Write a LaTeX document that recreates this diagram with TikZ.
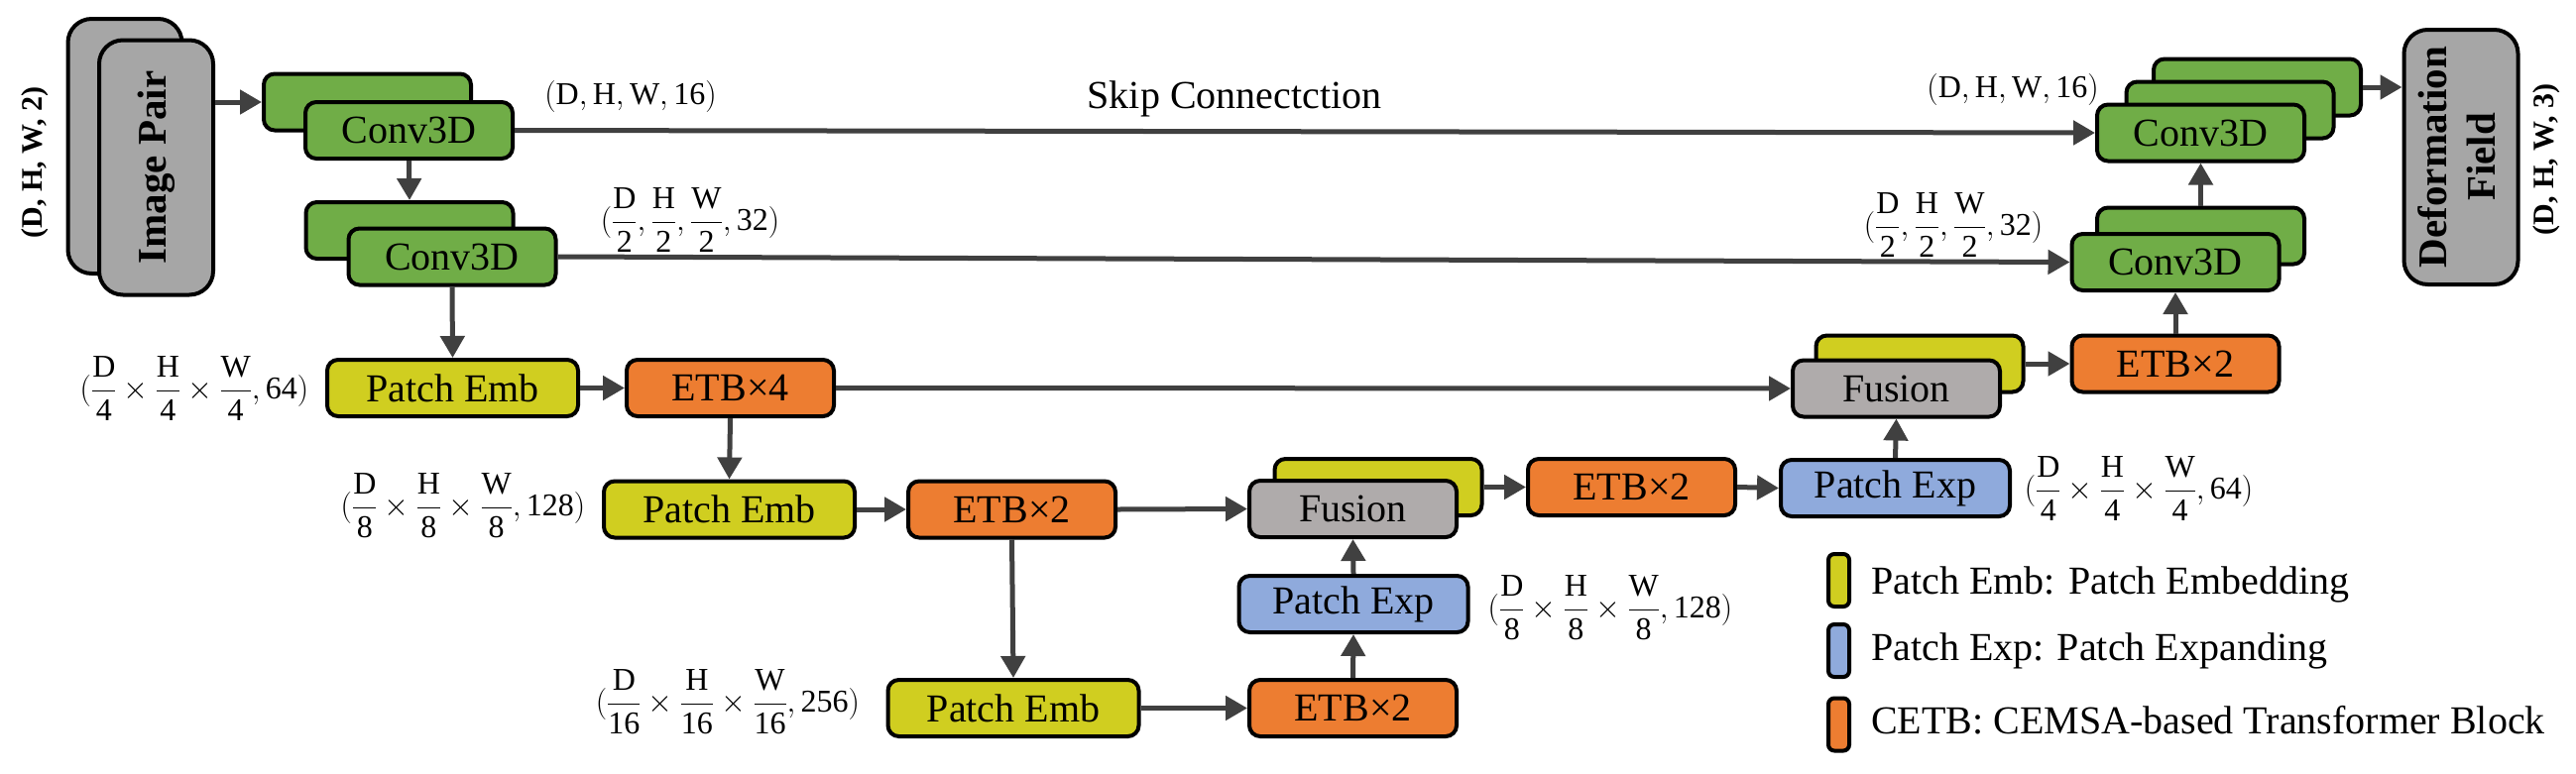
\documentclass[tikz,border=0pt]{standalone}
\usepackage{fix-cm}
\usepackage{amsmath}
\usepackage{fontspec}
\setmainfont{Liberation Serif}
\usetikzlibrary{arrows.meta}
\definecolor{cgreen}{RGB}{112,173,71}
\definecolor{cyellow}{RGB}{208,206,32}
\definecolor{corange}{RGB}{237,125,49}
\definecolor{cblue}{RGB}{143,170,220}
\definecolor{cgrayA}{RGB}{166,166,166}
\definecolor{cgrayF}{RGB}{175,171,171}
\definecolor{cline}{RGB}{64,64,64}
\newcommand{\bfs}{\fontsize{40}{48}\selectfont}
\newcommand{\dfs}{\fontsize{32}{38}\selectfont}
\newcommand{\rfs}{\fontsize{30}{36}\selectfont\bfseries}
\newcommand{\tfs}{\fontsize{41}{49}\selectfont\bfseries}
\newcommand{\fr}[2]{\dfrac{\mathrm{#1}}{\mathrm{#2}}}
\newcommand{\nm}[1]{\mathrm{#1}}
\tikzset{
  blk/.style={draw=black, line width=4pt, rounded corners=11pt, inner sep=0pt, minimum height=57pt, font=\bfs},
  cw/.style={blk, minimum width=209pt},
  conv/.style={cw, fill=cgreen},
  etb/.style={cw, fill=corange},
  fus/.style={cw, fill=cgrayF},
  fusback/.style={cw, fill=cyellow},
  pemb/.style={blk, fill=cyellow, minimum width=253pt},
  pexp/.style={blk, fill=cblue, minimum width=231pt},
  tall/.style={draw=black, line width=4pt, rounded corners=24pt, fill=cgrayA, minimum width=115pt, minimum height=257pt, inner sep=0pt, align=center},
  arr/.style={draw=cline, line width=5pt, -{Triangle[length=22pt,width=24pt]}},
  dim/.style={font=\dfs, inner sep=0pt},
  rlab/.style={font=\rfs, inner sep=0pt, rotate=90},
  swatch/.style={draw=black, line width=4pt, rounded corners=6pt, minimum width=21pt, minimum height=53pt, inner sep=0pt},
  legtext/.style={font=\bfs, inner sep=0pt, anchor=base west}
}
\begin{document}
\begin{tikzpicture}[x=1pt,y=-1pt]
\useasboundingbox (0,0) rectangle (2598,780);
% input
\node[tall] (imgB) at (126,147.5) {};
\node[tall] (imgF) at (157.5,169) {\rotatebox{90}{\tfs Image Pair}};
\node[rlab] (lin) at (35,164) {(D, H, W, 2)};
% encoder conv
\node[conv] (c1b) at (370.5,103) {};
\node[conv] (c1f) at (412.5,131.5) {Conv3D};
\node[conv] (c2b) at (413,232.5) {};
\node[conv] (c2f) at (456,259) {Conv3D};
% level nodes
\node[pemb] (pe1) at (456.5,391.5) {Patch Emb};
\node[etb] (etb4) at (736.5,391.5) {ETB×4};
\node[pemb] (pe2) at (735.5,514) {Patch Emb};
\node[etb] (etba) at (1020.5,514) {ETB×2};
\node[pemb] (pe3) at (1022,714.5) {Patch Emb};
\node[etb] (etbb) at (1364.5,714.5) {ETB×2};
\node[pexp] (pxL) at (1365,609.5) {Patch Exp};
\node[fusback] (fLb) at (1390,491.5) {};
\node[fus] (fLf) at (1364.5,513.5) {Fusion};
\node[etb] (etbc) at (1645.5,491.5) {ETB×2};
\node[pexp] (pxR) at (1911.5,492.5) {Patch Exp};
\node[fusback] (fTb) at (1936,367) {};
\node[fus] (fTf) at (1912.5,392) {Fusion};
\node[etb] (etbd) at (2194,367) {ETB×2};
% decoder conv
\node[conv] (r2b) at (2219.5,238) {};
\node[conv] (r2f) at (2194,264.5) {Conv3D};
\node[conv] (r1b) at (2276.5,88) {};
\node[conv] (r1m) at (2249,111) {};
\node[conv] (r1f) at (2219.5,134) {Conv3D};
\node[tall] (def) at (2482,158.5) {\rotatebox{90}{\tfs\begin{tabular}{@{}c@{}}Deformation\\Field\end{tabular}}};
\node[rlab] (lout) at (2568,161) {(D, H, W, 3)};
% dimension labels
\node[dim] (d1) at (636,97) {$(\nm{D},\nm{H},\nm{W},\nm{16})$};
\node[dim] (d2) at (696,222) {$(\fr{D}{2},\fr{H}{2},\fr{W}{2},\nm{32})$};
\node[dim] (d3) at (196,392) {$(\fr{D}{4}\times\fr{H}{4}\times\fr{W}{4},\nm{64})$};
\node[dim] (d4) at (467,510) {$(\fr{D}{8}\times\fr{H}{8}\times\fr{W}{8},\nm{128})$};
\node[dim] (d5) at (734,708) {$(\fr{D}{16}\times\fr{H}{16}\times\fr{W}{16},\nm{256})$};
\node[dim] (d6) at (2030,90) {$(\nm{D},\nm{H},\nm{W},\nm{16})$};
\node[dim] (d7) at (1970,227) {$(\fr{D}{2},\fr{H}{2},\fr{W}{2},\nm{32})$};
\node[dim] (d8) at (1624,613) {$(\fr{D}{8}\times\fr{H}{8}\times\fr{W}{8},\nm{128})$};
\node[dim] (d9) at (2157,493) {$(\fr{D}{4}\times\fr{H}{4}\times\fr{W}{4},\nm{64})$};
\node[font=\bfs, inner sep=0pt] (skip) at (1245,100) {Skip Connectction};
% arrows
\draw[arr] (imgF.east |- c1b.west) -- (c1b.west);
\draw[arr] (c1f.east) -- (r1f.west);
\draw[arr] (c1f.south) -- (c2b.north);
\draw[arr] (c2f.east) -- (r2f.west);
\draw[arr] (c2f.south) -- (pe1.north);
\draw[arr] (pe1.east) -- (etb4.west);
\draw[arr] (etb4.east) -- (fTf.west);
\draw[arr] (etb4.south) -- (pe2.north);
\draw[arr] (pe2.east) -- (etba.west);
\draw[arr] (etba.east) -- (fLf.west);
\draw[arr] (etba.south) -- (pe3.north);
\draw[arr] (pe3.east) -- (etbb.west);
\draw[arr] (etbb.north) -- (pxL.south);
\draw[arr] (pxL.north) -- (fLf.south);
\draw[arr] (fLb.east) -- (etbc.west);
\draw[arr] (etbc.east) -- (pxR.west);
\draw[arr] (pxR.north) -- (fTf.south);
\draw[arr] (fTb.east) -- (etbd.west);
\draw[arr] (etbd.north) -- (r2f.south);
\draw[arr] (r2b.north) -- (r1f.south);
\draw[arr] (r1b.east) -- (def.west |- r1b.east);
% legend
\node[swatch, fill=cyellow] (s1) at (1854.5,585.5) {};
\node[swatch, fill=cblue] (s2) at (1854.5,656.5) {};
\node[swatch, fill=corange] (s3) at (1854.5,731) {};
\node[legtext] (t1) at (1887,599) {Patch Emb: Patch Embedding};
\node[legtext] (t2) at (1887,666) {Patch Exp: Patch Expanding};
\node[legtext] (t3) at (1887,740) {CETB: CEMSA-based Transformer Block};
\end{tikzpicture}
\end{document}
